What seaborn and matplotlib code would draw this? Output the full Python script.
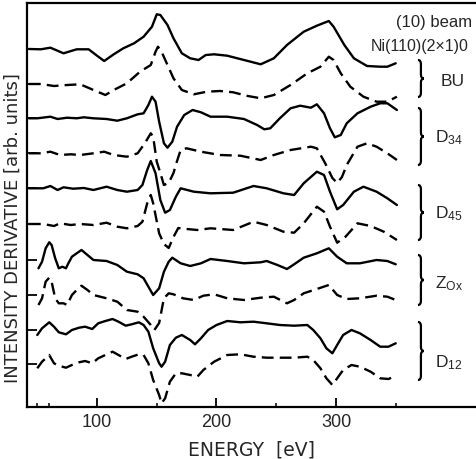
import numpy as np
import pandas as pd
import matplotlib
matplotlib.use("Agg")
import matplotlib.pyplot as plt
import seaborn as sns
from matplotlib.path import Path
from matplotlib.patches import PathPatch

# ---- data: energy (eV) and derivative signal (arb. units) ----
bu_exp_e = [43, 53, 61, 72, 83, 93, 100, 106, 114, 122, 131, 139, 146, 150, 153, 159, 164, 171, 178,
            185, 191, 198, 209, 223, 237, 248, 259, 273, 284, 294, 298, 307, 315, 326, 337, 343, 350]
bu_exp = [0, -0.3, 1.3, -4.3, -0.3, -0.3, -6.7, -12, -5.3, 0.7, 5.7, 12.3, 22.3, 34.7, 34, 24, 10.7, -4.3, -9.3,
          -11, -6, -5.3, -6.7, -11, -15.3, -9.3, 4, 17.3, 23.3, 28, 22.3, 4, -9.3, -17, -17.7, -17.7, -14.3]

bu_th_e = [43, 53, 64, 75, 86, 97, 107, 114, 125, 136, 145, 149, 151, 154, 159, 164, 171, 181,
           192, 203, 214, 225, 237, 248, 262, 276, 287, 294, 298, 304, 312, 323, 334, 343, 351]
bu_th = [0, 0, -2, -1, -0.3, -6, -11, -6, 0.7, 12.3, 19, 32.3, 37.3, 32.3, 19, 5.7, -6, -10.3,
         -7.7, -7, -8.3, -11.7, -14.3, -11, -1, 10.7, 17.3, 27.3, 24, 10.7, -2.7, -12.7, -17.7, -17.7, -12.7]

d34_exp_e = [43, 50, 61, 67, 75, 83, 89, 97, 108, 117, 125, 134, 139, 143, 146, 149, 152, 156, 159, 163, 167, 173,
             180, 187, 195, 209, 223, 234, 240, 245, 253, 262, 270, 279, 284, 290, 295, 299, 304, 309, 318, 329,
             337, 343, 351]
d34_exp = [-0.3, -0.3, 1.3, -1, 0.3, -0.3, 0.7, -0.3, -1, -2.7, -0.3, 3.7, 4.7, 13, 21.3, 16.3, -3.7, -25.3, -29.7,
           -23.7, -8.7, 3, 8, 5.7, 1.3, 1.3, -1, -7, -11.3, -10.3, -0.3, 9.7, 12.3, 10.3, 13.7, 4.7, -10.3, -19.3,
           -17, -5.3, 4.7, 11.3, 14.7, 14.7, 8]

d34_th_e = [43, 53, 61, 69, 78, 86, 97, 106, 114, 125, 134, 140, 145, 147, 150, 153, 156, 160, 164, 167, 170, 175,
            187, 203, 220, 237, 248, 262, 279, 284, 291, 297, 301, 305, 309, 318, 326, 334, 343, 351]
d34_th = [-0.3, -0.3, 1.3, -2, -1.3, -2, -0.3, 1.3, -2, -3.7, -0.3, 9.7, 19.7, 16.3, -8.7, -20, -32, -30, -20, -8,
          3, 4.7, 1.3, -2, -2.7, -7, -2, 3, 6.3, 4.7, -10.3, -25, -30, -24, -12, 6.3, 9.7, 6.3, -0.3, -7]

d45_exp_e = [43, 55, 61, 67, 72, 80, 89, 97, 108, 117, 125, 134, 138, 142, 145, 149, 153, 157, 161, 166, 170, 181,
             195, 214, 231, 242, 256, 265, 273, 284, 290, 295, 301, 306, 315, 323, 334, 343, 351]
d45_exp = [-0.3, -0.3, 2, -2, 0.7, -0.7, 0, -2, 1.3, -2, -3.7, -2, 3, 18, 27, 14.7, -12, -24.7, -22, -8.7, -0.3,
           -3.7, -5.3, -4.7, 2, -0.3, -5.3, -7, 4.7, 16.3, 13, -3.7, -21.3, -17, -3.7, 1.3, -3.7, -10.3, -17]

d45_th_e = [43, 55, 64, 69, 78, 86, 97, 108, 117, 125, 134, 138, 142, 145, 147, 152, 156, 160, 164, 168, 175, 184,
            195, 214, 231, 242, 256, 265, 273, 284, 290, 295, 301, 308, 318, 329, 340, 351]
d45_th = [0, 0, -2, 0.7, -1, 0, -1, 1.3, -2.7, -4.3, -2, 2.3, 20.7, 29, 20.7, -9.3, -20, -24, -13, -4, -5, -6,
          -4.3, -6, 2.3, -1, -7.7, -8.7, 0.7, 17.3, 12.3, -2.7, -18.7, -12.7, 0.7, -2, -7.7, -16]

zox_exp_e = [51, 54, 57, 60, 62, 65, 68, 71, 74, 76, 79, 83, 87, 92, 97, 108, 117, 125, 134, 139, 143, 147, 152,
             156, 160, 163, 170, 178, 187, 195, 209, 223, 237, 242, 251, 259, 265, 273, 284, 294, 301, 309, 320,
             334, 343, 350]
zox_exp = [-8.3, -1.7, 11.7, 17.7, 15, 1.7, -8.3, -6.7, -8.3, -3.3, 3.3, 6.7, 10, 5, 0, -1, -5, -11.7, -14.3, -18.3,
           -26.7, -35, -28.3, -11.7, -1.7, 2.3, -3.3, -6, -3.3, 1, -1, -3.3, -2.3, -1, -5, -9, -4.3, 2.3, 6.7,
           11.7, 3.3, -3.3, -3.3, 0, -1, -4.3]

zox_th_e = [51, 54, 57, 60, 62, 65, 68, 72, 75, 79, 83, 87, 92, 97, 108, 117, 125, 134, 139, 145, 148, 152, 156,
            160, 164, 172, 181, 189, 198, 209, 223, 237, 248, 259, 265, 273, 284, 294, 301, 309, 320, 334, 343, 350]
zox_th = [-10, -3.3, 13.3, 17.3, 13.3, -3.3, -8.3, -8.3, -10, 0, 5, 9.3, 5, 0, -3.3, -6.7, -15, -16.7, -21.7, -30,
          -35, -28, -3.3, 1.7, 0.7, -3.3, -5, -0.7, 0.7, -3.3, -5, -2.7, -1.7, -8.3, -5, 1.7, 6, 10, 0, -4, -3.3,
          -0.7, -1.7, -5]

d12_exp_e = [50, 54, 60, 64, 68, 74, 79, 85, 90, 96, 101, 107, 113, 118, 124, 129, 135, 139, 143, 147, 152, 154,
             157, 161, 166, 171, 178, 182, 187, 193, 200, 209, 220, 231, 242, 253, 265, 276, 281, 287, 292, 297,
             301, 306, 313, 320, 329, 337, 344, 350]
d12_exp = [-5, 1.7, 7.7, 3.3, -2.3, -4.3, 0, 2.3, 3.3, 1, 6.7, 9, 11, 8.3, 4.3, 5.7, 7.7, 5, -1.7, -18.3, -33.3,
           -36.7, -31.7, -15, -7.7, -5, -10, -14.3, -8.3, 0, 5, 9, 7.7, 8.3, 6.7, 5, 4.3, 5, 0, -8.3, -18.3, -23.3,
           -15, -5, 0, -3.3, -10, -16.7, -16.7, -13.3]

d12_th_e = [50, 54, 60, 64, 68, 74, 79, 85, 90, 96, 101, 107, 113, 118, 124, 129, 135, 139, 143, 147, 152, 154,
            157, 161, 166, 171, 178, 184, 189, 198, 209, 220, 231, 242, 253, 265, 276, 281, 287, 292, 297, 301,
            306, 313, 320, 329, 337, 344, 350]
d12_th = [-4.3, 2.3, 9, 0.7, -1.7, -3.7, -1, 1.7, 3, 0.7, 5.7, 9, 12.3, 9, 5, 7.3, 9.7, 9, 0.7, -16, -31, -39.3,
          -34.3, -17.7, -9.3, -9.3, -11, -12.7, -6, 2.3, 9, 9.7, 7.3, 6.3, 6.3, 6.3, 7.3, 4, -4.3, -14.3, -21,
          -14.3, -6, -1, -2.7, -7.7, -14.3, -15, -11.7]

groups = ["BU", "$D_{34}$", "$D_{45}$", "$Z_{Ox}$", "$D_{12}$"]
traces = [
    (bu_exp_e, bu_exp, "solid"), (bu_th_e, bu_th, "dashed"),
    (d34_exp_e, d34_exp, "solid"), (d34_th_e, d34_th, "dashed"),
    (d45_exp_e, d45_exp, "solid"), (d45_th_e, d45_th, "dashed"),
    (zox_exp_e, zox_exp, "solid"), (zox_th_e, zox_th, "dashed"),
    (d12_exp_e, d12_exp, "solid"), (d12_th_e, d12_th, "dashed"),
]

# layout: vertical offset of each trace, brace spans and label baselines
offsets = [358, 323, 289, 254, 219, 183, 147, 112, 77, 43]
brace_spans = [(347, 310), (299, 242), (222, 167), (152, 102), (85, 27)]
label_y = [321, 265, 189, 119, 40]

rows = []
for i, (e, s, kind) in enumerate(traces):
    for ee, ss in zip(e, s):
        rows.append({"energy": ee, "y": ss + offsets[i], "trace": i, "kind": kind})
df = pd.DataFrame(rows)

sns.set_style("ticks")
plt.rcParams["font.family"] = ["Liberation Sans", "DejaVu Sans"]
plt.rcParams["mathtext.default"] = "regular"

fig = plt.figure(figsize=(4.76, 4.59), dpi=100)
ax = fig.add_axes([27 / 476, 52 / 459, 449 / 476, 404 / 459])

sns.lineplot(data=df, x="energy", y="y", units="trace", estimator=None, sort=False,
             style="kind", dashes={"solid": "", "dashed": (5, 2.6)},
             color="black", linewidth=1.7, legend=False, ax=ax)

ax.set_xlim(41.4, 417.2)
ax.set_ylim(0, 404)
ax.set_xticks([100, 200, 300])
ax.set_xticks([50, 60, 150, 250, 350], minor=True)
ax.set_yticks(offsets)
ax.set_yticklabels([])
ax.tick_params(axis="both", which="major", direction="in", length=6.5, width=1.3, color="black")
ax.tick_params(axis="x", which="minor", direction="in", length=3, width=1.3)
ax.tick_params(axis="x", labelsize=13, pad=5)
ax.tick_params(axis="y", length=7)
for side in ["left", "bottom", "top"]:
    ax.spines[side].set_linewidth(1.6)
    ax.spines[side].set_color("black")
ax.spines["right"].set_visible(False)

ax.set_xlabel("ENERGY  [eV]", fontsize=13.5, family="DejaVu Sans", labelpad=7)
ax.set_ylabel("INTENSITY DERIVATIVE [arb. units]", fontsize=13, family="DejaVu Sans")
ax.yaxis.set_label_coords(-0.012, 0.443)

ax.text(414, 385, "(10) beam", fontsize=12, ha="right", va="center")
ax.text(411, 361, "Ni(110)(2\u00d71)0", fontsize=11.5, ha="right", va="center")

# curly braces grouping each experiment/theory pair
x0, w, c = 368.6, 5, 4
for (top, bot), name, yl in zip(brace_spans, groups, label_y):
    m = (top + bot) / 2
    xm = x0 + w / 2
    verts = [(x0, top), (xm, top), (xm, top - c), (xm, m + c), (xm, m), (x0 + w, m),
             (xm, m), (xm, m - c), (xm, bot + c), (xm, bot), (x0, bot)]
    codes = [Path.MOVETO, Path.CURVE3, Path.CURVE3, Path.LINETO, Path.CURVE3, Path.CURVE3,
             Path.CURVE3, Path.CURVE3, Path.LINETO, Path.CURVE3, Path.CURVE3]
    ax.add_patch(PathPatch(Path(verts, codes), fill=False, lw=1.6, color="black"))
    ax.text(382.5 if name != "BU" else 388, yl, name, fontsize=12.5, ha="left", va="baseline")

fig.savefig("out.png", dpi=100)
